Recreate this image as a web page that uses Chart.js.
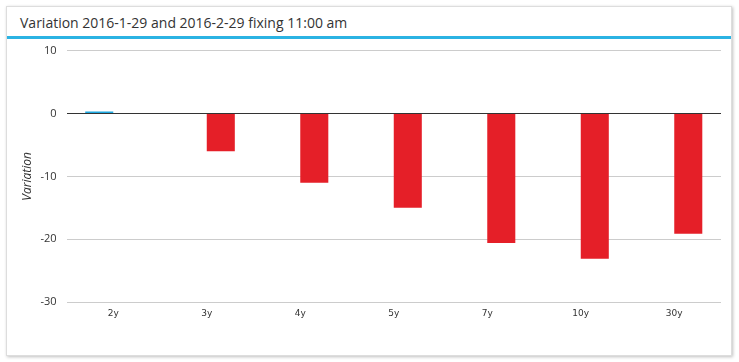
<!DOCTYPE html>
<html>
<head>
<meta charset="utf-8">
<script src="https://cdn.jsdelivr.net/npm/chart.js@4"></script>
<style>
  body { margin: 0; background: #fff; font-family: "Open Sans", sans-serif; }
  #card {
    position: absolute; left: 6px; top: 6px; width: 724px; height: 348px;
    border: 1px solid #ddd; box-shadow: 1px 1px 3px rgba(0,0,0,0.25); background: #fff;
  }
  #head {
    height: 29px; border-bottom: 3px solid #2bb3e3;
    font-size: 14px; color: #333; line-height: 31px; padding-left: 13px;
  }
  #wrap { position: absolute; left: 0; top: 27px; width: 724px; height: 321px; }
</style>
</head>
<body>
<div id="card">
  <div id="head">Variation 2016-1-29 and 2016-2-29 fixing 11:00 am</div>
  <div id="wrap"><canvas id="myChart"></canvas></div>
</div>
<script>
var categories = ["2y", "3y", "4y", "5y", "7y", "10y", "30y"];
var upValues = [0.3, null, null, null, null, null, null];
var downValues = [null, -6.0, -11.0, -15.0, -20.6, -23.1, -19.1];
var yTicks = [10, 0, -10, -20, -30];

new Chart("myChart", {
  type: "bar",
  data: {
    labels: categories,
    datasets: [
      { data: upValues, backgroundColor: "#1ea8e0" },
      { data: downValues, backgroundColor: "#e51f28" }
    ]
  },
  options: {
    responsive: true,
    maintainAspectRatio: false,
    animation: false,
    layout: { padding: { left: 13, right: 10, top: 1, bottom: 30 } },
    datasets: { bar: { barPercentage: 1, categoryPercentage: 0.6 } },
    plugins: { legend: { display: false }, tooltip: { enabled: false } },
    scales: {
      x: {
        grid: { display: false, drawTicks: false },
        border: { display: false },
        ticks: { color: "#333", font: { family: "DejaVu Sans", size: 9 }, maxRotation: 0, padding: 6 }
      },
      y: {
        min: -30, max: 10,
        afterBuildTicks: function (axis) { axis.ticks = yTicks.map(function (v) { return { value: v }; }); },
        border: { display: false },
        grid: {
          color: function (c) { return c.tick && c.tick.value === 0 ? "#333" : "#ccc"; },
          drawTicks: false
        },
        ticks: { color: "#333", font: { family: "Open Sans", size: 11 }, padding: 10 },
        title: {
          display: true, text: "Variation", color: "#333",
          font: { family: "Open Sans", size: 12, style: "italic" }, padding: { top: 0, bottom: -4 }
        }
      }
    }
  }
});
</script>
</body>
</html>
